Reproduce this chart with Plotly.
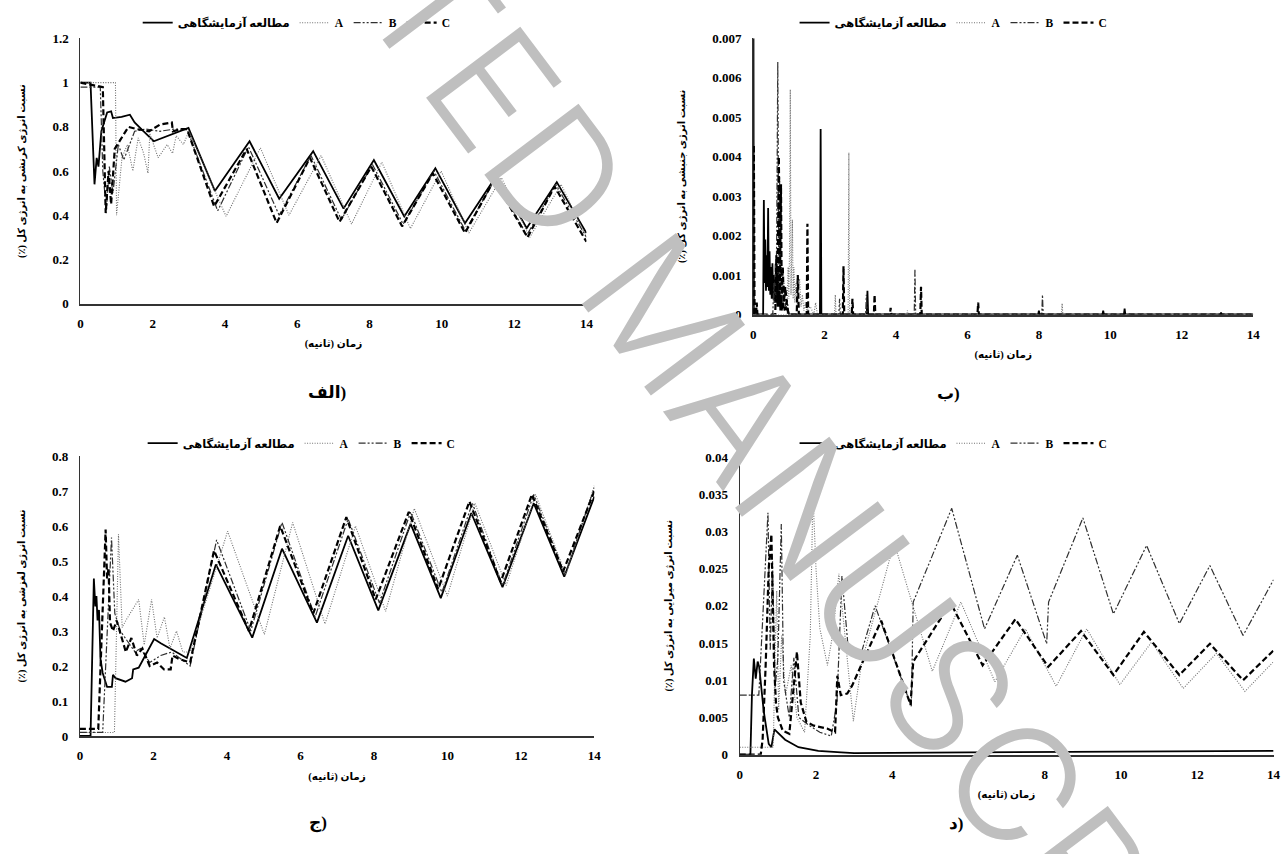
import plotly.graph_objects as go

# ---------------- data: panel (الف) strain energy ratio ----------------
T_STRAIN_EXP = [0, 0.28, 0.39, 0.45, 0.5, 0.58, 0.74, 0.85, 0.9, 1.14, 1.37, 1.5, 1.75, 2.03, 2.99, 3.72,
                4.68, 5.5, 6.44, 7.28, 8.12, 8.96, 9.82, 10.64, 11.51, 12.35, 13.18, 14]
V_STRAIN_EXP = [1.0, 1.0, 0.54, 0.66, 0.62, 0.78, 0.865, 0.87, 0.84, 0.845, 0.855, 0.82, 0.78, 0.735, 0.795, 0.51,
                0.735, 0.475, 0.69, 0.43, 0.65, 0.395, 0.613, 0.364, 0.579, 0.342, 0.55, 0.32]
T_STRAIN_A = [0, 0.97, 1.0, 1.15, 1.3, 1.45, 1.6, 1.75, 1.87, 1.92, 2.15, 2.4, 2.55, 2.65, 2.85, 3.0, 4.03,
              4.98, 5.77, 6.66, 7.5, 8.34, 9.13, 9.98, 10.75, 11.65, 12.43, 13.3, 14]
V_STRAIN_A = [1.0, 1.0, 0.40, 0.66, 0.72, 0.60, 0.75, 0.68, 0.59, 0.77, 0.66, 0.72, 0.68, 0.76, 0.72, 0.78, 0.395,
              0.705, 0.40, 0.67, 0.36, 0.64, 0.34, 0.60, 0.32, 0.57, 0.30, 0.54, 0.30]
T_STRAIN_B = [0, 0.55, 0.62, 0.72, 0.8, 0.9, 1.05, 1.2, 1.5, 1.8, 2.2, 2.6, 2.95, 3.8, 4.65, 5.5, 6.38, 7.22,
              8.08, 8.93, 9.78, 10.65, 11.48, 12.35, 13.15, 14]
V_STRAIN_B = [0.98, 0.98, 0.6, 0.42, 0.62, 0.5, 0.72, 0.65, 0.78, 0.79, 0.78, 0.79, 0.79, 0.42, 0.71, 0.40, 0.67,
              0.38, 0.63, 0.36, 0.60, 0.33, 0.565, 0.31, 0.54, 0.30]
T_STRAIN_C = [0, 0.62, 0.70, 0.78, 0.85, 0.95, 1.1, 1.33, 1.55, 1.9, 2.2, 2.53, 2.56, 2.8, 2.95, 3.7, 4.6, 5.43,
              6.35, 7.17, 8.05, 8.9, 9.75, 10.64, 11.45, 12.37, 13.12, 14]
V_STRAIN_C = [1.0, 0.98, 0.41, 0.6, 0.45, 0.70, 0.74, 0.80, 0.79, 0.78, 0.81, 0.82, 0.78, 0.79, 0.79, 0.44, 0.70,
              0.365, 0.66, 0.37, 0.62, 0.35, 0.59, 0.32, 0.56, 0.30, 0.53, 0.28]

# ---------------- data: panel (ب) kinetic energy ratio ----------------
T_KIN_EXP = [0, 0.01, 0.02, 0.03, 0.28, 0.30, 0.32, 0.34, 0.36, 0.38, 0.40, 0.42, 0.44, 0.46, 0.48, 0.50, 0.52,
             0.54, 0.56, 0.58, 0.60, 0.62, 0.64, 0.66, 0.68, 0.70, 0.72, 0.74, 0.76, 0.78, 0.80, 0.84, 0.88, 0.92,
             0.96, 1.0, 1.87, 1.89, 1.91, 3.18, 3.2, 3.22, 7.98, 8.0, 8.02, 9.78, 9.8, 9.82, 10.38, 10.4, 10.42,
             13.08, 13.1, 13.12, 14]
V_KIN_EXP = [0, 0.007, 0.0002, 0, 0, 0.0029, 0.0008, 0.0019, 0.0006, 0.0015, 0.0007, 0.0027, 0.0006, 0.0016,
             0.0005, 0.0012, 0.0004, 0.0013, 0.0004, 0.001, 0.0003, 0.0009, 0.0003, 0.0008, 0.0002, 0.0011, 0.0002,
             0.0006, 0.0001, 0.0005, 0.0001, 0.0003, 0.0001, 0.0002, 0.0001, 0, 0, 0.0047, 0, 0, 0.0006, 0, 0,
             0.0001, 0, 0, 0.0001, 0, 0, 0.00015, 0, 0, 0.00005, 0, 0]
T_KIN_A = [0, 0.95, 0.98, 1.0, 1.02, 1.04, 1.06, 1.08, 1.1, 1.12, 1.14, 1.17, 1.2, 1.23, 1.26, 1.3, 1.34, 1.38,
           1.42, 1.46, 1.5, 1.6, 1.7, 1.75, 1.8, 2.28, 2.3, 2.32, 2.66, 2.68, 2.7, 4.3, 4.32, 4.34, 8.63, 8.65,
           8.67, 14]
V_KIN_A = [0, 0, 0.0012, 0.0004, 0.0017, 0.0057, 0.0005, 0.0015, 0.0024, 0.0004, 0.0012, 0.0003, 0.0008, 0.0002,
           0.0006, 0.0009, 0.0002, 0.0005, 0.0001, 0.0003, 0.0001, 0.0002, 0, 0.0003, 0, 0, 0.0005, 0, 0, 0.0041,
           0, 0, 0.0001, 0, 0, 0.00028, 0, 0]
T_KIN_B = [0, 0.55, 0.58, 0.6, 0.62, 0.64, 0.66, 0.69, 0.72, 0.74, 0.77, 0.8, 0.83, 0.86, 0.9, 0.95, 1.0, 2.4,
           2.42, 2.44, 3.15, 3.17, 3.19, 4.51, 4.53, 4.55, 8.08, 8.1, 8.12, 14]
V_KIN_B = [0, 0, 0.0008, 0.0003, 0.0013, 0.0004, 0.002, 0.0064, 0.0006, 0.0035, 0.0005, 0.0012, 0.0003, 0.0008,
           0.0002, 0.0004, 0, 0, 0.0004, 0, 0, 0.0005, 0, 0, 0.00115, 0, 0, 0.0005, 0, 0]
T_KIN_C = [0, 0.02, 0.04, 0.08, 0.1, 0.12, 0.62, 0.65, 0.68, 0.72, 0.75, 0.78, 0.8, 0.83, 0.86, 0.9, 0.95, 1.0,
           1.22, 1.25, 1.28, 1.5, 1.52, 1.54, 2.51, 2.53, 2.55, 2.76, 2.78, 2.8, 3.38, 3.4, 3.42, 3.83, 3.85, 3.87,
           4.68, 4.7, 4.72, 6.28, 6.3, 6.32, 14]
V_KIN_C = [0, 0.0043, 0, 0, 0.0003, 0, 0, 0.0015, 0.0005, 0.004, 0.0006, 0.0033, 0.0005, 0.0012, 0.0003, 0.0007,
           0.0002, 0, 0, 0.001, 0, 0, 0.0023, 0, 0, 0.00122, 0, 0, 0.0004, 0, 0, 0.0005, 0, 0, 0.00017, 0, 0,
           0.0007, 0, 0, 0.0003, 0, 0]

# ---------------- data: panel (ج) sliding energy ratio ----------------
T_SLIP_EXP = [0, 0.29, 0.38, 0.42, 0.45, 0.48, 0.52, 0.56, 0.62, 0.74, 0.87, 0.9, 0.97, 1.24, 1.42, 1.45, 1.6,
              2.02, 2.2, 2.91, 3.7, 4.69, 5.5, 6.45, 7.3, 8.12, 9.0, 9.82, 10.65, 11.5, 12.35, 13.18, 14]
V_SLIP_EXP = [0, 0, 0.45, 0.37, 0.40, 0.33, 0.36, 0.22, 0.18, 0.14, 0.14, 0.175, 0.165, 0.155, 0.165, 0.19, 0.195,
              0.277, 0.265, 0.223, 0.49, 0.281, 0.535, 0.324, 0.572, 0.359, 0.606, 0.394, 0.637, 0.425, 0.665,
              0.455, 0.684]
T_SLIP_A = [0, 0.94, 1.05, 1.15, 1.25, 1.6, 1.75, 1.95, 2.1, 2.3, 2.45, 2.63, 2.8, 3.0, 4.02, 5.02, 5.79, 6.67,
            7.5, 8.32, 9.1, 10.0, 10.75, 11.6, 12.4, 13.22, 14]
V_SLIP_A = [0.01, 0.01, 0.576, 0.31, 0.33, 0.39, 0.26, 0.39, 0.28, 0.34, 0.25, 0.30, 0.24, 0.24, 0.585, 0.29,
            0.61, 0.32, 0.60, 0.356, 0.65, 0.40, 0.665, 0.43, 0.69, 0.46, 0.715]
T_SLIP_B = [0, 0.62, 0.86, 0.95, 1.1, 1.3, 1.5, 1.65, 1.9, 2.2, 2.5, 2.75, 3.0, 3.72, 4.65, 5.5, 6.4, 7.3, 8.15,
            9.0, 9.85, 10.68, 11.5, 12.35, 13.2, 14]
V_SLIP_B = [0.01, 0.01, 0.567, 0.35, 0.30, 0.27, 0.24, 0.25, 0.21, 0.23, 0.24, 0.22, 0.20, 0.56, 0.30, 0.61, 0.34,
            0.62, 0.38, 0.64, 0.41, 0.665, 0.43, 0.69, 0.46, 0.71]
T_SLIP_C = [0, 0.5, 0.7, 0.74, 0.78, 0.82, 0.9, 1.0, 1.25, 1.4, 1.55, 1.7, 1.9, 2.1, 2.29, 2.47, 2.52, 2.7, 3.0,
            3.65, 4.6, 5.45, 6.35, 7.25, 8.05, 8.95, 9.75, 10.6, 11.45, 12.3, 13.15, 14]
V_SLIP_C = [0.02, 0.02, 0.59, 0.45, 0.48, 0.324, 0.30, 0.33, 0.24, 0.28, 0.23, 0.25, 0.20, 0.21, 0.19, 0.19, 0.23,
            0.22, 0.21, 0.53, 0.30, 0.60, 0.35, 0.625, 0.39, 0.64, 0.42, 0.67, 0.44, 0.69, 0.47, 0.70]

# ---------------- data: panel (د) damping energy ratio ----------------
T_DAMP_EXP = [0, 0.28, 0.32, 0.37, 0.42, 0.47, 0.51, 0.63, 0.76, 0.83, 0.91, 1.19, 1.54, 2.06, 2.66, 3.0, 6.0,
              10.0, 14]
V_DAMP_EXP = [0, 0, 0.008, 0.0129, 0.0102, 0.0125, 0.0118, 0.0058, 0.00145, 0.001, 0.0034, 0.002, 0.001, 0.0005,
              0.0003, 0.0002, 0.0003, 0.0004, 0.0005]
T_DAMP_A = [0, 0.88, 0.92, 0.97, 1.02, 1.1, 1.2, 1.35, 1.5, 1.7, 1.85, 1.92, 2.0, 2.1, 2.3, 2.45, 2.6, 2.98, 3.2,
            4.05, 5.05, 5.8, 6.69, 7.49, 8.3, 9.1, 9.97, 10.8, 11.63, 12.5, 13.25, 14]
V_DAMP_A = [0.001, 0.001, 0.012, 0.022, 0.006, 0.016, 0.008, 0.012, 0.005, 0.003, 0.016, 0.035, 0.025, 0.017,
            0.012, 0.0165, 0.0243, 0.0045, 0.0125, 0.0285, 0.0112, 0.0205, 0.0098, 0.0169, 0.0092, 0.0169, 0.0094,
            0.0151, 0.0089, 0.0136, 0.0085, 0.0125]
T_DAMP_B = [0, 0.5, 0.6, 0.74, 0.8, 0.86, 0.93, 1.0, 1.09, 1.15, 1.3, 1.42, 1.55, 1.8, 2.1, 2.4, 2.55, 2.68, 2.85,
            3.15, 3.55, 4.5, 4.55, 5.56, 6.42, 7.28, 8.05, 8.1, 9.0, 9.8, 10.67, 11.53, 12.33, 13.2, 14]
V_DAMP_B = [0.008, 0.008, 0.018, 0.0325, 0.014, 0.026, 0.009, 0.013, 0.031, 0.01, 0.005, 0.013, 0.005, 0.004,
            0.003, 0.0025, 0.007, 0.024, 0.014, 0.013, 0.02, 0.0065, 0.0205, 0.0331, 0.0169, 0.0268, 0.0149, 0.0205,
            0.0318, 0.0189, 0.0281, 0.0176, 0.0254, 0.016, 0.0235]
T_DAMP_C = [0, 0.55, 0.6, 0.68, 0.76, 0.83, 0.9, 0.95, 1.0, 1.13, 1.3, 1.5, 1.6, 1.75, 1.94, 2.29, 2.5, 2.56, 2.65,
            2.82, 2.95, 3.71, 4.48, 4.55, 5.53, 6.37, 7.23, 8.09, 8.95, 9.8, 10.6, 11.53, 12.33, 13.2, 14]
V_DAMP_C = [0, 0, 0.002, 0.012, 0.025, 0.0296, 0.012, 0.007, 0.005, 0.0032, 0.0028, 0.0138, 0.007, 0.0044, 0.0039,
            0.0035, 0.003, 0.0106, 0.008, 0.0082, 0.0093, 0.018, 0.0067, 0.0125, 0.0204, 0.012, 0.0182, 0.0118,
            0.0166, 0.0107, 0.0165, 0.0107, 0.0149, 0.01, 0.014]

SERIES_NAMES = ["مطالعه آزمایشگاهی", "A", "B", "C"]
PANEL_LABELS = ["الف)", "ب)", "ج)", "د)"]
X_TITLE = "زمان (ثانیه)\u200f"
Y_TITLES = ["نسبت انرژی کرنشی به انرژی کل (٪)\u200f", "نسبت انرژی جنبشی به انرژی کل (٪)\u200f",
            "نسبت انرژی لغزشی به انرژی کل (٪)\u200f", "نسبت انرژی میرایی به انرژی کل (٪)\u200f"]
WATERMARK = "ACCEPTED MANUSCRIPT"

# ---------------- styling ----------------
FONT = "Liberation Serif, 'Times New Roman', DejaVu Sans, serif"
STYLES = [
    dict(color="#000000", width=1.8, dash="solid"),
    dict(color="#707070", width=1.1, dash="1px,1.5px"),
    dict(color="#303030", width=1.2, dash="7px,2px,2px,2px,2px,2px"),
    dict(color="#000000", width=2.2, dash="6px,3px"),
]

panels = [
    ([(T_STRAIN_EXP, V_STRAIN_EXP), (T_STRAIN_A, V_STRAIN_A), (T_STRAIN_B, V_STRAIN_B), (T_STRAIN_C, V_STRAIN_C)]),
    ([(T_KIN_EXP, V_KIN_EXP), (T_KIN_A, V_KIN_A), (T_KIN_B, V_KIN_B), (T_KIN_C, V_KIN_C)]),
    ([(T_SLIP_EXP, V_SLIP_EXP), (T_SLIP_A, V_SLIP_A), (T_SLIP_B, V_SLIP_B), (T_SLIP_C, V_SLIP_C)]),
    ([(T_DAMP_EXP, V_DAMP_EXP), (T_DAMP_A, V_DAMP_A), (T_DAMP_B, V_DAMP_B), (T_DAMP_C, V_DAMP_C)]),
]

W, H = 1288, 854
# plot-area pixel boxes (left, right, top, bottom)
BOXES = [(78, 588, 32, 302), (756, 1260, 31.7, 313), (77.5, 596, 457, 742), (742.5, 1280.5, 458, 761)]
YRANGES = [(0, 1.2, 0.2), (0, 0.007, 0.001), (0, 0.8, 0.1), (0, 0.04, 0.005)]
LEGEND_POS = [(296, 16), (958, 16), (301, 444), (958, 444)]
LABEL_POS = [(305, 392), (966, 393), (306, 843), (970, 843)]

fig = go.Figure()
layout = dict(width=W, height=H, margin=dict(l=0, r=0, t=0, b=0), paper_bgcolor="white",
              plot_bgcolor="white", font=dict(family=FONT, color="#000"), annotations=[])

for i, (series, box, yr, lp, lab) in enumerate(zip(panels, BOXES, YRANGES, LEGEND_POS, LABEL_POS)):
    n = "" if i == 0 else str(i + 1)
    leg = "legend" + n
    for (t, v), name, st in zip(series, SERIES_NAMES, STYLES):
        fig.add_trace(go.Scatter(x=t, y=v, mode="lines", name=name, line=st,
                                 xaxis="x" + n, yaxis="y" + n, legend=leg))
    l, r, tp, bt = box
    layout["xaxis" + n] = dict(
        domain=[l / W, r / W], range=[0, 14], dtick=2, anchor="y" + n,
        showline=True, linecolor="#333", linewidth=1.6, showgrid=False, zeroline=False,
        ticks="outside", ticklen=7, tickcolor="rgba(0,0,0,0)",
        tickfont=dict(family=FONT, size=13, weight="bold"),
        title=dict(text=X_TITLE, standoff=10, font=dict(family=FONT, size=10.5, weight="bold")))
    layout["yaxis" + n] = dict(
        domain=[1 - bt / H, 1 - tp / H], range=[yr[0], yr[1]], dtick=yr[2], anchor="x" + n,
        showline=True, linecolor="#333", linewidth=1.2, showgrid=False, zeroline=False,
        ticks="outside", ticklen=8, tickcolor="rgba(0,0,0,0)",
        tickfont=dict(family=FONT, size=13, weight="bold"),
        title=dict(text=Y_TITLES[i], standoff=24, font=dict(family=FONT, size=10, weight="bold")))
    layout[leg] = dict(orientation="h", x=lp[0] / W, y=1 - lp[1] / H, xanchor="center", yanchor="middle",
                       bgcolor="rgba(0,0,0,0)", font=dict(family=FONT, size=11.5, weight="bold"),
                       itemwidth=30, tracegroupgap=0)
    layout["annotations"].append(dict(text=PANEL_LABELS[i], x=lab[0] / W, y=1 - lab[1] / H, xref="paper",
                                      yref="paper", showarrow=False,
                                      font=dict(family=FONT, size=17, weight="bold")))

layout["annotations"].append(dict(text=WATERMARK, x=672 / W, y=1 - 322 / H, xref="paper", yref="paper",
                                  showarrow=False, textangle=53,
                                  font=dict(family="Inter", size=162, weight=340, color="#bfbfbf")))

fig.update_layout(**layout)
fig.write_html("out.html")
